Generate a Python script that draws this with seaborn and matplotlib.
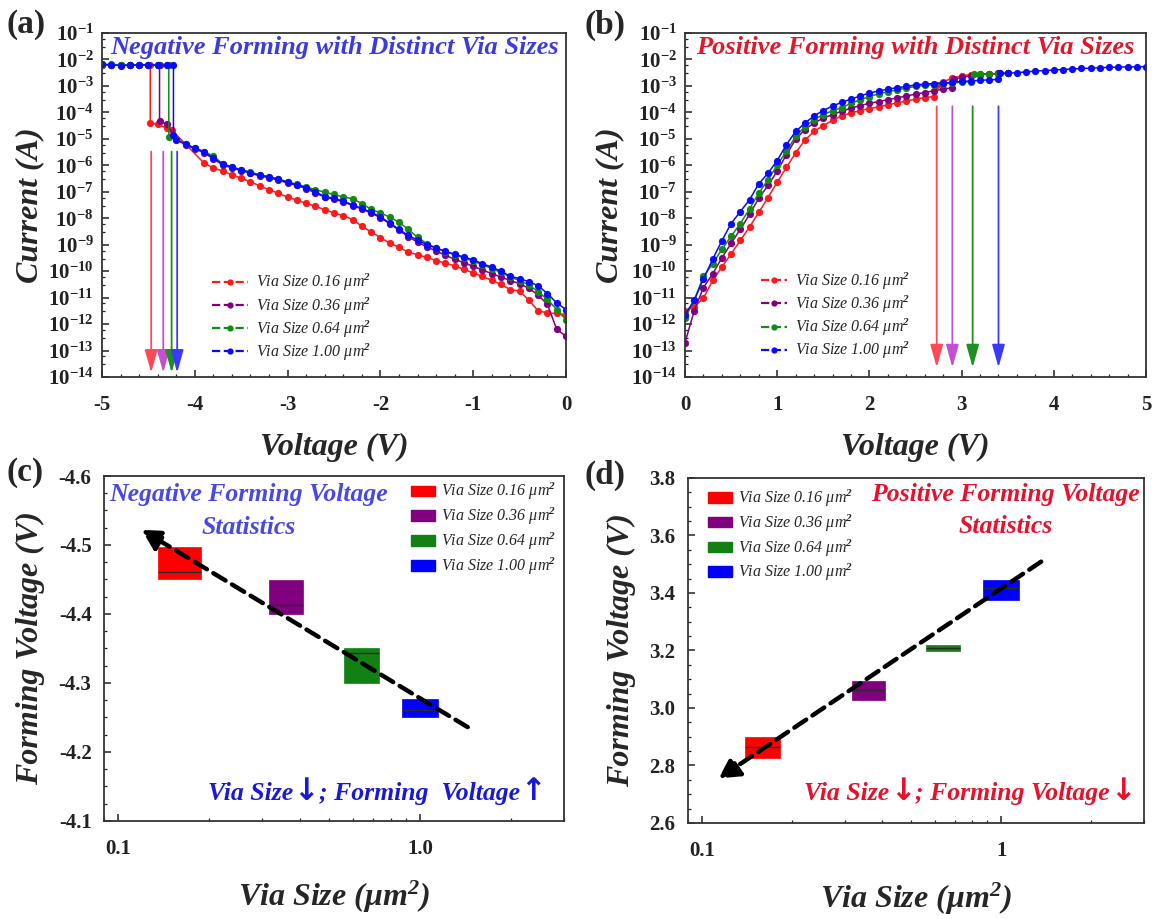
import numpy as np
import matplotlib
matplotlib.use("Agg")
import matplotlib.pyplot as plt
import seaborn as sns
from matplotlib.lines import Line2D
from matplotlib.patches import Patch
from matplotlib.offsetbox import TextArea, HPacker, AnnotationBbox
from matplotlib.ticker import FixedLocator, AutoMinorLocator, LogLocator, NullFormatter

# ---------------------------------------------------------------- data
size_labels = ["0.16", "0.36", "0.64", "1.00"]
via_sizes = [0.16, 0.36, 0.64, 1.00]

# negative sweep voltage grid (V)
neg_grid = [0.0, -0.1, -0.2, -0.3, -0.4, -0.5, -0.6, -0.7, -0.8, -0.9,
            -1.0, -1.1, -1.2, -1.3, -1.4, -1.5, -1.6, -1.7, -1.8, -1.9,
            -2.0, -2.1, -2.2, -2.3, -2.4, -2.5, -2.6, -2.7, -2.8, -2.9,
            -3.0, -3.1, -3.2, -3.3, -3.4, -3.5, -3.6, -3.7, -3.8, -3.9,
            -4.0, -4.1, -4.2]

# log10 of current (A) before forming
neg_v_016 = neg_grid[:40] + [-4.25, -4.30, -4.40, -4.48]
neg_logi_016 = [-11.65, -11.60, -11.58, -11.50, -11.10, -10.75, -10.70, -10.50, -10.35, -10.20,
                -10.07, -9.93, -9.80, -9.70, -9.60, -9.48, -9.38, -9.28, -9.10, -8.94,
                -8.73, -8.52, -8.30, -8.05, -7.90, -7.80, -7.68, -7.55, -7.43, -7.32,
                -7.20, -7.06, -6.92, -6.78, -6.62, -6.49, -6.36, -6.22, -6.10, -5.92,
                -4.66, -4.60, -4.45, -4.40]
neg_v_036 = neg_grid + [-4.30, -4.38]
neg_logi_036 = [-12.46, -12.20, -11.26, -10.90, -10.65, -10.47, -10.36, -10.22, -10.10, -9.95,
                -9.82, -9.68, -9.55, -9.40, -9.24, -9.08, -8.90, -8.70, -8.45, -8.20,
                -7.98, -7.80, -7.65, -7.52, -7.38, -7.28, -7.20, -7.05, -6.88, -6.76,
                -6.67, -6.56, -6.47, -6.40, -6.30, -6.20, -6.10, -5.98, -5.76, -5.52,
                -5.38, -5.22, -5.02, -4.45, -4.32]
neg_v_064 = neg_grid + [-4.28]
neg_logi_064 = [-11.83, -11.45, -11.07, -10.78, -10.52, -10.36, -10.22, -10.05, -9.90, -9.76,
                -9.62, -9.50, -9.38, -9.26, -9.12, -8.96, -8.72, -8.42, -8.15, -7.96,
                -7.80, -7.66, -7.45, -7.26, -7.20, -7.10, -7.02, -6.92, -6.82, -6.72,
                -6.62, -6.52, -6.43, -6.36, -6.26, -6.16, -6.06, -5.94, -5.66, -5.48,
                -5.34, -5.20, -5.02, -4.94]
neg_v_100 = neg_grid + [-4.23]
neg_logi_100 = [-11.45, -11.20, -10.85, -10.55, -10.40, -10.28, -10.20, -10.00, -9.85, -9.72,
                -9.57, -9.47, -9.36, -9.25, -9.13, -9.00, -8.82, -8.65, -8.42, -8.18,
                -7.95, -7.78, -7.63, -7.50, -7.35, -7.25, -7.18, -7.00, -6.84, -6.74,
                -6.64, -6.53, -6.44, -6.38, -6.28, -6.18, -6.08, -5.96, -5.73, -5.50,
                -5.36, -5.20, -5.04, -4.85]

# compliance branches after forming
neg_cc_v_016 = [-4.48, -4.5, -4.6, -4.7, -4.8, -4.9, -5.0]
neg_cc_logi_016 = [-2.22, -2.22, -2.20, -2.20, -2.21, -2.20, -2.19]
neg_cc_v_036 = [-4.38, -4.4, -4.5, -4.6, -4.7, -4.8, -4.9, -5.0]
neg_cc_logi_036 = [-2.22, -2.22, -2.21, -2.21, -2.20, -2.21, -2.20, -2.20]
neg_cc_v_064 = [-4.28, -4.3, -4.4, -4.5, -4.6, -4.7, -4.8, -4.9, -5.0]
neg_cc_logi_064 = [-2.20, -2.22, -2.21, -2.20, -2.21, -2.20, -2.20, -2.19, -2.20]
neg_cc_v_100 = [-4.23, -4.3, -4.4, -4.5, -4.6, -4.7, -4.8, -4.9, -5.0]
neg_cc_logi_100 = [-2.21, -2.21, -2.22, -2.20, -2.20, -2.22, -2.23, -2.20, -2.19]

# positive sweep voltage grid (V)
pos_grid = [0.0, 0.1, 0.2, 0.3, 0.4, 0.5, 0.6, 0.7, 0.8, 0.9,
            1.0, 1.1, 1.2, 1.3, 1.4, 1.5, 1.6, 1.7, 1.8, 1.9,
            2.0, 2.1, 2.2, 2.3, 2.4, 2.5, 2.6, 2.7, 2.8, 2.9,
            3.0, 3.1, 3.2, 3.3, 3.4]

pos_v_016 = pos_grid[:28]
pos_logi_016 = [-11.50, -11.35, -11.02, -10.35, -9.84, -9.35, -8.84, -8.33, -7.78, -7.22,
                -6.64, -6.08, -5.53, -5.05, -4.72, -4.50, -4.30, -4.13, -4.02, -3.93,
                -3.86, -3.79, -3.72, -3.64, -3.57, -3.50, -3.44, -3.40]
pos_v_036 = pos_grid[:30]
pos_logi_036 = [-12.70, -11.50, -10.62, -10.10, -9.50, -8.95, -8.42, -7.85, -7.25, -6.76,
                -6.22, -5.60, -5.02, -4.65, -4.40, -4.22, -4.08, -3.96, -3.84, -3.74,
                -3.66, -3.59, -3.52, -3.45, -3.38, -3.31, -3.25, -3.18, -3.12, -3.07]
pos_v_064 = pos_grid[:32]
pos_logi_064 = [-11.77, -11.10, -10.20, -9.72, -9.18, -8.68, -8.20, -7.65, -7.05, -6.55,
                -6.00, -5.47, -4.91, -4.54, -4.28, -4.08, -3.94, -3.82, -3.66, -3.52,
                -3.40, -3.30, -3.22, -3.15, -3.08, -3.02, -2.98, -2.95, -2.92, -2.89,
                -2.86, -2.84]
pos_v_100 = pos_grid
pos_logi_100 = [-11.64, -11.10, -10.30, -9.55, -8.85, -8.20, -7.75, -7.30, -6.70, -6.30,
                -5.82, -5.22, -4.72, -4.41, -4.13, -3.93, -3.76, -3.62, -3.50, -3.38,
                -3.27, -3.19, -3.12, -3.07, -3.02, -2.96, -2.93, -2.91, -2.89, -2.86,
                -2.83, -2.81, -2.79, -2.77, -2.75]

pos_cc_v_016 = [2.73, 2.8, 2.9, 3.0, 3.1, 3.2, 3.3, 3.4, 3.5]
pos_cc_logi_016 = [-2.95, -2.85, -2.70, -2.62, -2.57, -2.55, -2.54, -2.53, -2.52]
pos_cc_v_036 = [2.92, 3.0, 3.1, 3.2, 3.3, 3.4, 3.5]
pos_cc_logi_036 = [-2.75, -2.68, -2.62, -2.58, -2.55, -2.53, -2.52]
pos_cc_v_064 = [3.13, 3.2, 3.3, 3.4, 3.5]
pos_cc_logi_064 = [-2.56, -2.55, -2.55, -2.54, -2.53]
pos_cc_v_100 = [3.42, 3.5, 3.6, 3.7, 3.8, 3.9, 4.0, 4.1, 4.2, 4.3, 4.4, 4.5, 4.6, 4.7, 4.8, 4.9, 5.0]
pos_cc_logi_100 = [-2.53, -2.52, -2.50, -2.47, -2.44, -2.42, -2.40, -2.38, -2.36, -2.34,
                   -2.33, -2.31, -2.30, -2.29, -2.28, -2.28, -2.27]

# forming markers (V) and their current span (A)
neg_arrow_v = [-4.47, -4.34, -4.25, -4.19]
neg_arrow_span = [3.3e-6, 1.45e-14]
pos_arrow_v = [2.73, 2.90, 3.12, 3.40]
pos_arrow_span = [1.7e-4, 2.3e-14]

# forming voltage statistics: box edges and medians (V)
neg_box_lo = [-4.497, -4.449, -4.351, -4.277]
neg_box_hi = [-4.451, -4.400, -4.300, -4.251]
neg_median = [-4.461, -4.413, -4.343, -4.261]
pos_box_lo = [2.827, 3.028, 3.198, 3.376]
pos_box_hi = [2.900, 3.093, 3.219, 3.445]
pos_median = [2.865, 3.063, 3.210, 3.418]

# trend guides (tail -> head)
neg_trend_x = [1.44, 0.12]
neg_trend_y = [-4.236, -4.522]
pos_trend_x = [1.36, 0.114]
pos_trend_y = [3.509, 2.755]

# ---------------------------------------------------------------- style
curve_colors = ["#ff1a1a", "#800080", "#138a13", "#0a0aff"]
arrow_colors = ["#ff4a55", "#c44fd0", "#1f8f1f", "#3a3aff"]
box_colors = ["#ff0000", "#800080", "#138013", "#0000ff"]
# box half-widths in decades of via size
neg_box_half = [0.072, 0.057, 0.058, 0.060]
pos_box_half = [0.059, 0.056, 0.057, 0.059]

sns.set_theme(style="ticks")
plt.rcParams.update({
    "font.family": ["Liberation Serif", "DejaVu Serif"],
    "font.weight": "bold",
    "mathtext.fontset": "custom",
    "mathtext.rm": "Liberation Serif:italic",
    "mathtext.it": "Liberation Serif:italic",
    "mathtext.bf": "Liberation Serif:bold",
    "mathtext.bfit": "Liberation Serif:italic:bold",
    "axes.unicode_minus": False,
})

TICK_FS = 15
LABEL_FS = 23
NOTE_FS = 18.5

fig = plt.figure(figsize=(11.6, 9.19), dpi=100)
ax_a = fig.add_axes([102 / 1160, 1 - 377 / 919, 464 / 1160, 344 / 919])
ax_b = fig.add_axes([685 / 1160, 1 - 377 / 919, 461 / 1160, 344 / 919])
ax_c = fig.add_axes([104 / 1160, 1 - 821 / 919, 460 / 1160, 345 / 919])
ax_d = fig.add_axes([688 / 1160, 1 - 823 / 919, 456 / 1160, 345 / 919])


def frame(ax):
    for s in ax.spines.values():
        s.set_linewidth(1.3)
        s.set_color("#333333")
    ax.tick_params(which="both", direction="in", top=False, right=False, colors="#222222")
    ax.tick_params(which="major", length=5, width=1.1, labelsize=TICK_FS)
    ax.tick_params(which="minor", length=2.5, width=0.9)
    ax.tick_params(axis="x", pad=13)
    ax.tick_params(axis="y", pad=6)
    for t in ax.get_xticklabels() + ax.get_yticklabels():
        t.set_fontweight("bold")


def arrow_note(ax, xy, words, color):
    """A line of bold italic text with heavy arrow glyphs between its words."""
    parts = []
    for w in words:
        if w in ("\u2193", "\u2191"):
            props = dict(family="DejaVu Sans", fontweight="bold", fontsize=22, color=color)
        else:
            props = dict(family="Liberation Serif", fontweight="bold", fontstyle="italic",
                         fontsize=NOTE_FS, color=color)
        parts.append(TextArea(w, textprops=props))
    box = HPacker(children=parts, align="baseline", pad=0, sep=0)
    ab = AnnotationBbox(box, xy, xycoords="axes fraction", frameon=False,
                        box_alignment=(0.5, 0.5), pad=0)
    ax.add_artist(ab)


def iv_panel(ax, branches, arrow_v, span, xlim, xticks, title, title_color,
             title_x, legend_anchor, handlelength):
    for (v_low, l_low, v_cc, l_cc), col in zip(branches, curve_colors):
        volts = list(v_low) + list(v_cc)
        amps = 10.0 ** np.array(list(l_low) + list(l_cc))
        sns.lineplot(x=volts, y=amps, ax=ax, color=col, sort=False, estimator=None,
                     marker="o", markersize=5.2, markeredgewidth=0, linestyle="-",
                     linewidth=1.1, legend=False)
    for v, col in zip(arrow_v, arrow_colors):
        ax.annotate("", xy=(v, span[1]), xytext=(v, span[0]),
                    arrowprops=dict(arrowstyle="-|>,head_length=1.0,head_width=0.28",
                                    color=col, lw=1.3, shrinkA=0, shrinkB=0,
                                    mutation_scale=14))
    ax.set_yscale("log")
    ax.set_xlim(*xlim)
    ax.set_ylim(1e-14, 1e-1)
    ax.set_xticks(xticks, [f"{t:g}" for t in xticks])
    ax.xaxis.set_minor_locator(AutoMinorLocator(5))
    dec = list(range(1, 15))
    ax.set_yticks([10.0 ** -k for k in dec],
                  [rf"$\mathbf{{10^{{-{k}}}}}$" for k in dec])
    ax.yaxis.set_minor_locator(LogLocator(base=10, subs=(3.0, 6.0), numticks=100))
    ax.yaxis.set_minor_formatter(NullFormatter())
    frame(ax)
    ax.set_xlabel("Voltage (V)", fontsize=LABEL_FS, fontweight="bold", fontstyle="italic")
    ax.xaxis.label.set_va("center")
    ax.xaxis.set_label_coords(0.5, -0.205)
    ax.set_ylabel("Current (A)", fontsize=LABEL_FS, fontweight="bold", fontstyle="italic")
    ax.yaxis.label.set_va("center")
    ax.text(title_x, 0.958, title, transform=ax.transAxes, ha="center", va="center",
            fontsize=19, fontweight="bold", fontstyle="italic", color=title_color)
    handles = [Line2D([], [], color=c, ls="--", lw=1.6, marker="o", ms=4.5, mew=0)
               for c in curve_colors]
    ax.legend(handles, [f"Via Size {s} μm$^{{2}}$" for s in size_labels],
              loc="upper left", bbox_to_anchor=legend_anchor, frameon=False,
              handlelength=handlelength, handletextpad=0.5, labelspacing=0.12,
              borderpad=0, borderaxespad=0,
              prop=dict(family="Liberation Serif", style="italic", weight="normal", size=11.5))


iv_panel(ax_a,
         [(neg_v_016, neg_logi_016, neg_cc_v_016, neg_cc_logi_016),
          (neg_v_036, neg_logi_036, neg_cc_v_036, neg_cc_logi_036),
          (neg_v_064, neg_logi_064, neg_cc_v_064, neg_cc_logi_064),
          (neg_v_100, neg_logi_100, neg_cc_v_100, neg_cc_logi_100)],
         neg_arrow_v, neg_arrow_span, (-5, 0), [-5, -4, -3, -2, -1, 0],
         "Negative Forming with Distinct Via Sizes", "#3b3be0", 0.502, (0.238, 0.305), 2.2)
ax_a.yaxis.set_label_coords(-0.155, 0.5)

iv_panel(ax_b,
         [(pos_v_016, pos_logi_016, pos_cc_v_016, pos_cc_logi_016),
          (pos_v_036, pos_logi_036, pos_cc_v_036, pos_cc_logi_036),
          (pos_v_064, pos_logi_064, pos_cc_v_064, pos_cc_logi_064),
          (pos_v_100, pos_logi_100, pos_cc_v_100, pos_cc_logi_100)],
         pos_arrow_v, pos_arrow_span, (0, 5), [0, 1, 2, 3, 4, 5],
         "Positive Forming with Distinct Via Sizes", "#e3162a", 0.499, (0.165, 0.31), 1.6)
ax_b.yaxis.set_label_coords(-0.163, 0.5)


def stats_panel(ax, lo, hi, med, halves, ylim, yticks, ytick_fmt, xtick_labels,
                trend_x, trend_y, legend_anchor):
    for x, a, b, m, half, col in zip(via_sizes, lo, hi, med, halves, box_colors):
        left, right = x * 10 ** -half, x * 10 ** half
        ax.bar(left, b - a, width=right - left, bottom=a, align="edge",
               color=col, edgecolor=col, linewidth=0.5, zorder=2)
        ax.hlines(m, left, right, color="#2b2b2b", lw=1.0, zorder=3)
    ax.annotate("", xy=(trend_x[1], trend_y[1]), xytext=(trend_x[0], trend_y[0]),
                arrowprops=dict(arrowstyle="-|>,head_length=0.55,head_width=0.3",
                                color="black", lw=3.2, ls=(0, (3.2, 1.7)),
                                shrinkA=0, shrinkB=0, mutation_scale=22), zorder=4)
    ax.set_xscale("log")
    ax.set_xlim(0.09, 3.0)
    ax.set_ylim(*ylim)
    ax.xaxis.set_major_locator(FixedLocator([0.1, 1.0]))
    ax.set_xticklabels(xtick_labels)
    ax.xaxis.set_minor_locator(LogLocator(base=10, subs=np.arange(2, 10), numticks=20))
    ax.xaxis.set_minor_formatter(NullFormatter())
    ax.set_yticks(yticks, [ytick_fmt.format(t) for t in yticks])
    ax.yaxis.set_minor_locator(AutoMinorLocator(4))
    frame(ax)
    ax.tick_params(axis="y", pad=9)
    ax.set_xlabel(r"Via Size (μm$^{\mathbfit{2}}$)", fontsize=LABEL_FS,
                  fontweight="bold", fontstyle="italic")
    ax.xaxis.label.set_va("center")
    ax.xaxis.set_label_coords(0.5, -0.22)
    ax.set_ylabel("Forming Voltage (V)", fontsize=LABEL_FS, fontweight="bold",
                  fontstyle="italic")
    ax.yaxis.label.set_va("center")
    handles = [Patch(facecolor=c, edgecolor=c) for c in box_colors]
    ax.legend(handles, [f"Via Size {s} μm$^{{2}}$" for s in size_labels],
              loc="upper left", bbox_to_anchor=legend_anchor, frameon=False,
              handlelength=1.5, handleheight=0.65, handletextpad=0.4, labelspacing=0.22,
              borderpad=0, borderaxespad=0,
              prop=dict(family="Liberation Serif", style="italic", weight="normal", size=11.5))


stats_panel(ax_c, neg_box_lo, neg_box_hi, neg_median, neg_box_half, (-4.1, -4.6),
            [-4.6, -4.5, -4.4, -4.3, -4.2, -4.1], "{:.1f}", ["0.1", "1.0"],
            neg_trend_x, neg_trend_y, (0.667, 0.985))
ax_c.yaxis.set_label_coords(-0.159, 0.5)
ax_c.text(0.315, 0.945, "Negative Forming Voltage", transform=ax_c.transAxes,
          ha="center", va="center", fontsize=NOTE_FS, fontweight="bold", fontstyle="italic",
          color="#4848e6")
ax_c.text(0.315, 0.852, "Statistics", transform=ax_c.transAxes,
          ha="center", va="center", fontsize=NOTE_FS, fontweight="bold", fontstyle="italic",
          color="#4848e6")
arrow_note(ax_c, (0.593, 0.085), ["Via Size", "\u2193", "; Forming  Voltage", "\u2191"],
           "#1818d8")

stats_panel(ax_d, pos_box_lo, pos_box_hi, pos_median, pos_box_half, (2.6, 3.8),
            [2.6, 2.8, 3.0, 3.2, 3.4, 3.6, 3.8], "{:.1f}", ["0.1", "1"],
            pos_trend_x, pos_trend_y, (0.043, 0.972))
ax_d.yaxis.set_label_coords(-0.145, 0.5)
ax_d.text(0.696, 0.951, "Positive Forming Voltage", transform=ax_d.transAxes,
          ha="center", va="center", fontsize=NOTE_FS, fontweight="bold", fontstyle="italic",
          color="#e8102a")
ax_d.text(0.696, 0.858, "Statistics", transform=ax_d.transAxes,
          ha="center", va="center", fontsize=NOTE_FS, fontweight="bold", fontstyle="italic",
          color="#e8102a")
arrow_note(ax_d, (0.618, 0.09), ["Via Size", "\u2193", "; Forming Voltage", "\u2193"],
           "#e8102a")

for lab, (px, py) in zip(["(a)", "(b)", "(c)", "(d)"],
                         [(7, 25), (585, 25), (7, 473), (585, 475)]):
    fig.text(px / 1160, 1 - py / 919, lab, ha="left", va="center", fontsize=24,
             fontweight="bold", family="Liberation Serif")

fig.savefig("out.png", dpi=100, facecolor="white")
